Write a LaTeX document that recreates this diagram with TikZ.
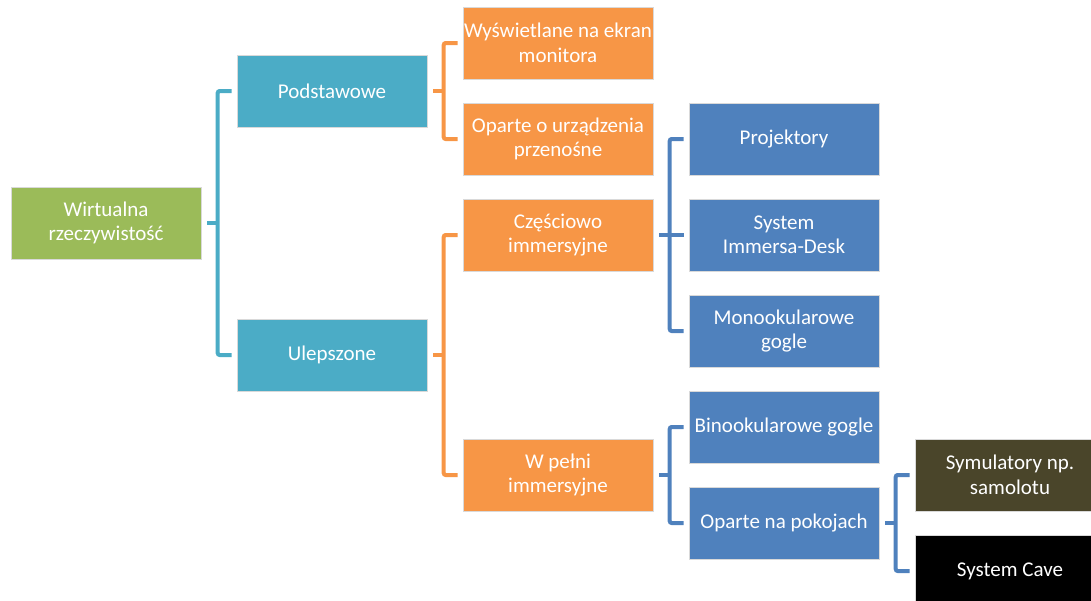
\documentclass[tikz,border=0pt]{standalone}
\usepackage{fontspec}
\setmainfont{Carlito}
\definecolor{cgreen}{HTML}{9BBB59}
\definecolor{cteal}{HTML}{4BACC6}
\definecolor{corange}{HTML}{F79646}
\definecolor{cblue}{HTML}{4F81BD}
\definecolor{colive}{HTML}{4A452A}
\tikzset{
  box/.style={draw=white!85!black, line width=0.6pt, minimum width=190pt, minimum height=72pt,
    inner sep=0pt, align=center, text=white, font=\fontsize{21}{24.5}\selectfont},
  brk/.style={draw=#1, line width=4pt, rounded corners=2pt}
}
\begin{document}
\begin{tikzpicture}[x=1pt,y=-1pt]
\useasboundingbox (0,0) rectangle (1091,600);
\clip (0,0) rectangle (1091,600);
\node[box, fill=cgreen] (vr) at (106,223) {Wirtualna\\rzeczywistość};
\node[box, fill=cteal] (pod) at (332,91) {Podstawowe};
\node[box, fill=cteal] (ule) at (332,355) {Ulepszone};
\node[box, fill=corange] (wys) at (558,43) {Wyświetlane na ekran\\monitora};
\node[box, fill=corange] (opu) at (558,139) {Oparte o urządzenia\\przenośne};
\node[box, fill=corange] (cze) at (558,235) {Częściowo\\immersyjne};
\node[box, fill=corange] (wpe) at (558,475) {W pełni\\immersyjne};
\node[box, fill=cblue] (pro) at (784,139) {Projektory};
\node[box, fill=cblue] (imm) at (784,235) {System\\Immersa-Desk};
\node[box, fill=cblue] (mon) at (784,331) {Monookularowe\\gogle};
\node[box, fill=cblue] (bin) at (784,427) {Binookularowe gogle};
\node[box, fill=cblue] (pok) at (784,523) {Oparte na pokojach};
\node[box, fill=colive] (sym) at (1010,475) {Symulatory np.\\samolotu};
\node[box, fill=black] (cav) at (1010,571) {System Cave};
% teal bracket
\draw[brk=cteal] ([xshift=6pt]vr.east) -- ++(12,0);
\draw[brk=cteal] ([xshift=-5pt]pod.west) -- ++(-14,0) |- ([xshift=-5pt]ule.west);
% orange brackets
\draw[brk=corange] ([xshift=6pt]pod.east) -- ++(11,0);
\draw[brk=corange] ([xshift=-5pt]wys.west) -- ++(-14,0) |- ([xshift=-5pt]opu.west);
\draw[brk=corange] ([xshift=6pt]ule.east) -- ++(11,0);
\draw[brk=corange] ([xshift=-5pt]cze.west) -- ++(-14,0) |- ([xshift=-5pt]wpe.west);
% blue brackets
\draw[brk=cblue] ([xshift=6pt]cze.east) -- ++(11,0);
\draw[brk=cblue] ([xshift=-5pt]pro.west) -- ++(-14,0) |- ([xshift=-5pt]mon.west);
\draw[brk=cblue] ([xshift=-19pt]imm.west) -- ([xshift=-5pt]imm.west);
\draw[brk=cblue] ([xshift=6pt]wpe.east) -- ++(11,0);
\draw[brk=cblue] ([xshift=-5pt]bin.west) -- ++(-14,0) |- ([xshift=-5pt]pok.west);
\draw[brk=cblue] ([xshift=6pt]pok.east) -- ++(11,0);
\draw[brk=cblue] ([xshift=-5pt]sym.west) -- ++(-14,0) |- ([xshift=-5pt]cav.west);
\end{tikzpicture}
\end{document}
